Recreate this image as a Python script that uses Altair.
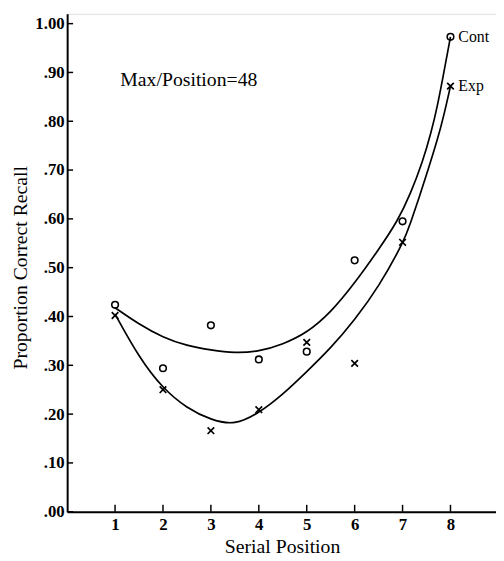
import altair as alt
import pandas as pd

# ---- data ----
positions = [1, 2, 3, 4, 5, 6, 7, 8]
control = [0.424, 0.294, 0.382, 0.312, 0.328, 0.515, 0.595, 0.973]
experimental = [0.402, 0.250, 0.166, 0.209, 0.347, 0.304, 0.552, 0.872]

# fitted curves
control_curve_x = [1.0, 1.5, 2.0, 2.5, 3.0, 3.5, 4.0, 4.5, 5.0, 5.5, 6.0, 6.5, 6.9, 7.16, 7.42, 7.6, 7.73, 7.86, 8.0]
control_curve_y = [0.418, 0.384, 0.357, 0.340, 0.331, 0.325, 0.328, 0.343, 0.366, 0.408, 0.468, 0.537, 0.596, 0.650, 0.717, 0.778, 0.832, 0.899, 0.973]
exp_curve_x = [1.0, 1.5, 2.0, 2.5, 3.0, 3.5, 4.0, 4.5, 5.0, 5.5, 6.0, 6.5, 7.04, 7.16, 7.35, 7.54, 7.73, 7.86, 8.0]
exp_curve_y = [0.405, 0.316, 0.252, 0.212, 0.188, 0.177, 0.202, 0.240, 0.287, 0.335, 0.393, 0.460, 0.556, 0.590, 0.645, 0.703, 0.763, 0.811, 0.872]

x_ticks = [1, 2, 3, 4, 5, 6, 7, 8]
y_ticks = [0.0, 0.1, 0.2, 0.3, 0.4, 0.5, 0.6, 0.7, 0.8, 0.9, 1.0]
series_labels = ["Cont", "Exp"]
note_text = ["Max/Position=48"]
note_pos = [(1.11, 0.885)]

FONT = "Liberation Serif"
W, H = 435, 505

pts_c = pd.DataFrame({"x": positions, "y": control})
pts_e = pd.DataFrame({"x": positions, "y": experimental})
cur_c = pd.DataFrame({"x": control_curve_x, "y": control_curve_y})
cur_e = pd.DataFrame({"x": exp_curve_x, "y": exp_curve_y})
lab = pd.DataFrame({"x": [positions[-1], positions[-1]],
                    "y": [control[-1], experimental[-1]],
                    "t": series_labels})
note = pd.DataFrame({"x": [note_pos[0][0]], "y": [note_pos[0][1]], "t": note_text})
xt = pd.DataFrame({"x": x_ticks})
yt = pd.DataFrame({"y": y_ticks})

x_axis = alt.Axis(
    title="Serial Position", values=x_ticks, format="d", grid=False,
    ticks=False, tickSize=0, labelPadding=5, labelFont=FONT, labelFontSize=17,
    labelFontWeight="bold", labelColor="black",
    domainColor="black", domainWidth=2,
    titleFont=FONT, titleFontSize=20, titleFontWeight="normal", titleColor="black",
    titleX=218, titleY=35, titleBaseline="middle", titleAlign="center",
)
y_axis = alt.Axis(
    title="Proportion Correct Recall", values=y_ticks, grid=False,
    labelExpr="datum.value >= 1 ? '1.00' : '.' + format(round(datum.value*100), '02d')",
    ticks=False, tickSize=0, labelPadding=3, labelFont=FONT, labelFontSize=17,
    labelFontWeight="bold", labelColor="black",
    domainColor="black", domainWidth=2,
    titleFont=FONT, titleFontSize=20, titleFontWeight="normal", titleColor="black",
    titleX=-47, titleY=257, titleAngle=-90, titleBaseline="middle", titleAlign="center",
)
xs = alt.Scale(domain=[0, 8.95], nice=False, zero=False)
ys = alt.Scale(domain=[0, 1.02], nice=False, zero=False)
X = alt.X("x:Q", scale=xs, axis=x_axis)
Y = alt.Y("y:Q", scale=ys, axis=y_axis)

line_c = alt.Chart(cur_c).mark_line(color="black", strokeWidth=1.7, interpolate="basis").encode(x=X, y=Y)
line_e = alt.Chart(cur_e).mark_line(color="black", strokeWidth=1.7, interpolate="basis").encode(x=X, y=Y)
circ = alt.Chart(pts_c).mark_point(shape="circle", size=45, filled=False, color="black",
                                   strokeWidth=1.6, opacity=1).encode(x=X, y=Y)
xmark = alt.Chart(pts_e).mark_point(shape="M-1,-1L1,1M-1,1L1,-1", size=45, filled=False,
                                    color="black", strokeWidth=1.7, opacity=1).encode(x=X, y=Y)
labels = alt.Chart(lab).mark_text(align="left", baseline="middle", dx=8, font=FONT,
                                  fontSize=16, color="black").encode(x=X, y=Y, text="t:N")
note_l = alt.Chart(note).mark_text(align="left", baseline="middle", font=FONT,
                                   fontSize=20, fontWeight="normal", color="black").encode(x=X, y=Y, text="t:N")
xtick = alt.Chart(xt).mark_rule(color="black", strokeWidth=1.5).encode(
    x=X, y=alt.value(H), y2=alt.value(H - 7))
ytick = alt.Chart(yt).mark_rule(color="black", strokeWidth=1.5).encode(
    y=Y, x=alt.value(0), x2=alt.value(6))

chart = alt.layer(line_c, line_e, circ, xmark, labels, note_l, xtick, ytick).properties(
    width=W, height=H,
    padding={"left": 60, "top": 2, "right": 0, "bottom": 45},
    autosize=alt.AutoSizeParams(type="none"),
).configure_view(stroke=None).configure(background="white", font=FONT)

chart.save("out.html", embed_options={"renderer": "svg", "actions": False})
